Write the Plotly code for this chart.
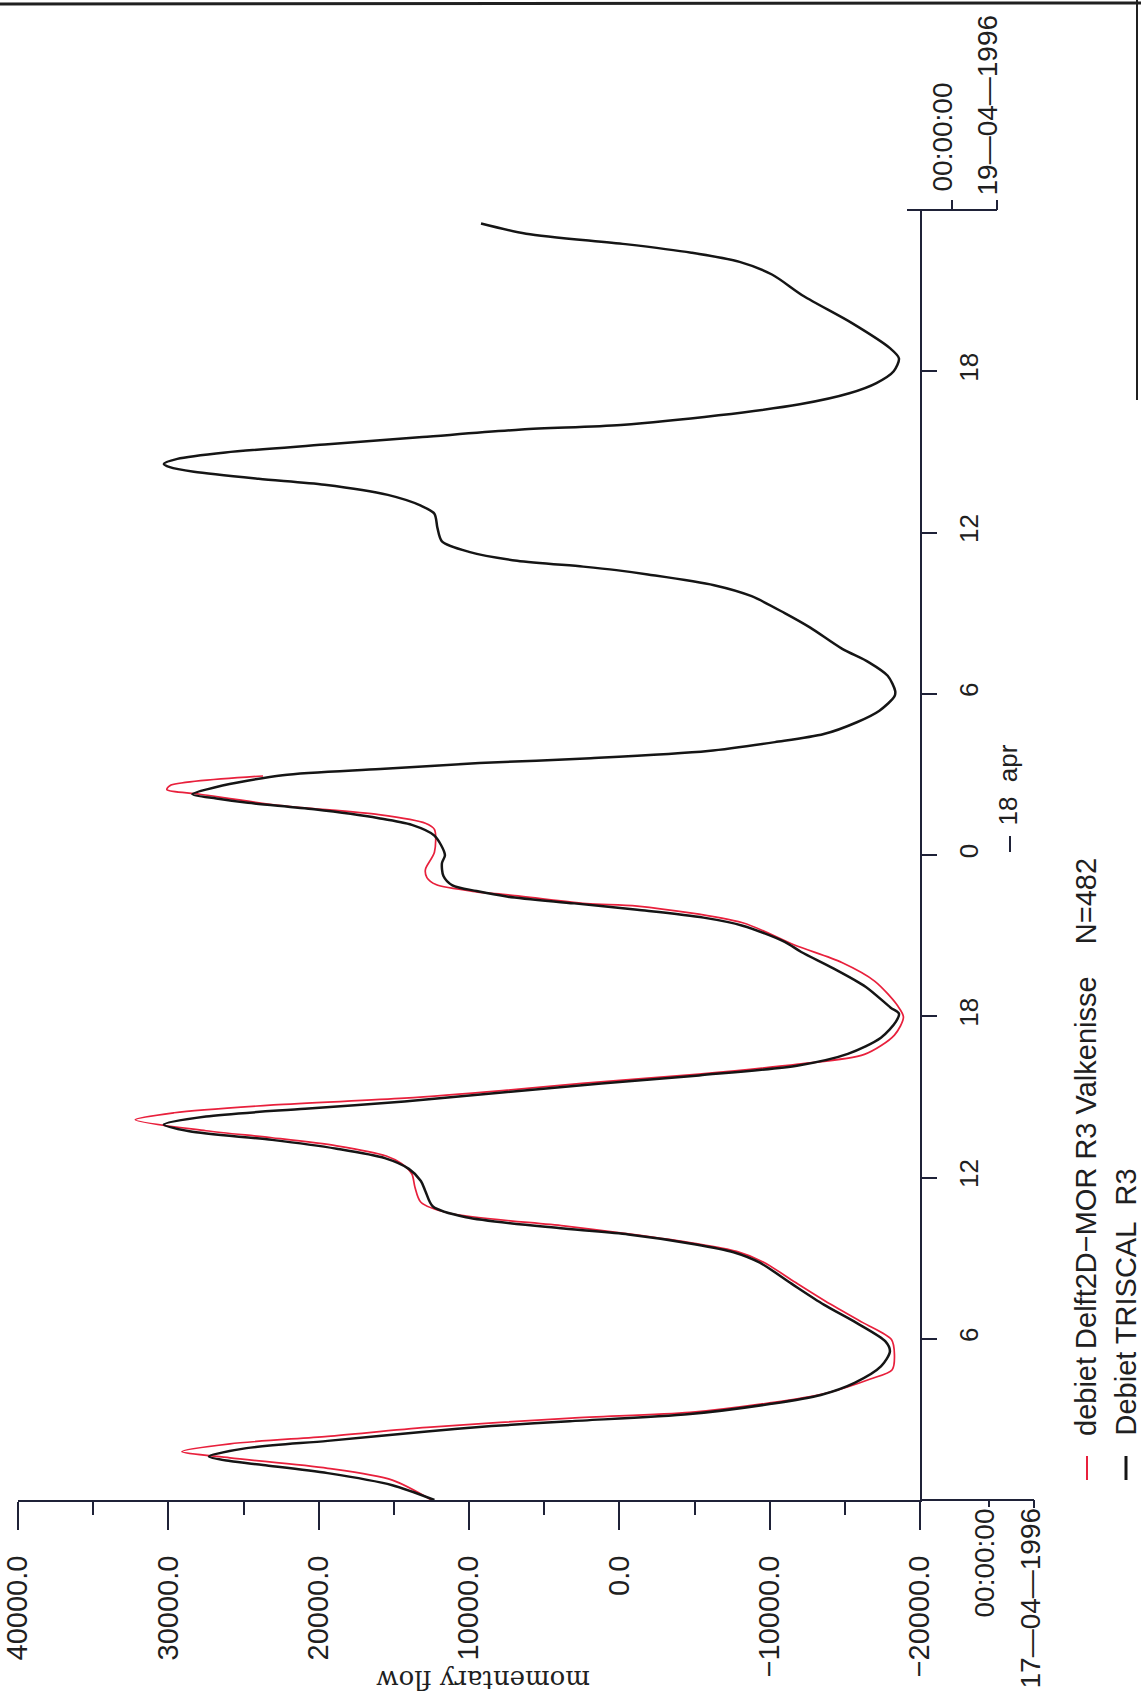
import plotly.graph_objects as go

# ---------------- data (hours since 17-04-1996 00:00, momentary flow) ----------------
time_triscal = [0.0, 0.55, 1.0, 1.3, 1.45, 1.62, 1.93, 2.2, 2.55, 2.75,
                2.93, 3.2, 3.58, 3.91, 4.36, 4.97, 5.53, 5.9, 6.6, 7.27,
                8.05, 8.83, 9.22, 9.52, 9.88, 10.1, 10.52, 10.92, 11.49, 11.87,
                12.32, 12.72, 13.07, 13.4, 13.72, 13.97, 14.27, 14.56, 14.83, 15.16,
                15.5, 15.8, 16.17, 16.6, 17.2, 17.8, 18.1, 18.32, 19.09, 19.79,
                20.39, 20.77, 21.37, 21.67, 21.96, 22.2, 22.45, 22.66, 22.87, 23.22,
                23.7, 24.0, 24.72, 25.12, 25.37, 25.7, 25.94, 26.1, 26.26, 26.53,
                26.97, 27.2, 27.42, 27.6, 27.87, 28.2, 28.5, 28.94, 29.37, 29.9,
                30.1, 30.67, 31.17, 31.68, 32.46, 33.0, 33.63, 34.04, 34.44, 34.6,
                34.73, 34.95, 35.28, 35.67, 36.17, 36.7, 37.0, 37.4, 37.78, 38.0,
                38.26, 38.43, 38.55, 38.74, 38.98, 39.27, 39.55, 39.83, 40.0, 40.36,
                40.77, 41.18, 41.56, 42.0, 42.48, 42.86, 43.8, 44.8, 45.6, 46.07,
                46.41, 46.73, 47.12, 47.5]
flow_triscal = [12300, 15100, 19400, 23700, 25900, 27300, 24800, 19400, 12800, 8500,
                3300, -4700, -10100, -13400, -15650, -17400, -18000, -17700, -15750, -13600,
                -11450, -9350, -7600, -5000, -600, 3700, 10200, 12400, 12900, 13200,
                14000, 15600, 18800, 23100, 28600, 30300, 27500, 20900, 14300, 7800,
                1200, -5300, -11900, -15200, -17400, -18400, -18600, -18050, -16400, -14200,
                -12100, -11000, -8200, -5600, -1200, 3000, 7400, 9500, 11100, 11700,
                11800, 11600, 12300, 13800, 16000, 20300, 24700, 26800, 28400, 26800,
                22400, 15900, 9300, 1900, -5900, -10350, -13600, -15800, -17300, -18300,
                -18350, -17850, -16600, -14800, -12700, -11000, -8800, -6300, -1900, 200,
                2400, 6800, 10000, 11800, 12100, 12300, 13200, 15400, 19600, 24000,
                28300, 29900, 30300, 29400, 26200, 19600, 13100, 6500, -100, -6600,
                -12000, -15300, -17100, -18250, -18600, -18000, -15450, -12250, -10150, -8000,
                -4800, -400, 6200, 9200]

time_delft = [0.0, 0.74, 1.18, 1.57, 1.8, 2.09, 2.37, 2.7, 3.05, 3.26,
              3.62, 3.95, 4.5, 4.85, 5.41, 5.97, 6.6, 7.3, 8.1, 8.85,
              9.25, 9.55, 9.9, 10.2, 10.67, 11.08, 11.65, 12.13, 12.52, 12.8,
              13.18, 13.48, 13.74, 14.15, 14.41, 14.7, 14.95, 15.23, 15.5, 15.85,
              16.22, 16.58, 17.3, 17.97, 18.4, 19.3, 20.0, 20.65, 21.48, 22.1,
              22.19, 22.52, 22.63, 22.9, 23.16, 23.46, 24.1, 24.95, 25.18, 25.5,
              25.84, 26.26, 26.43, 26.58, 26.94]
flow_delft = [12500, 15100, 19400, 25900, 29100, 25900, 19400, 12800, 3200, -4700,
              -10100, -13600, -16700, -18150, -18300, -18100, -16200, -14000, -11700, -9600,
              -7800, -5000, -600, 3700, 11300, 13200, 13600, 13800, 14500, 15500,
              18800, 23100, 27500, 32200, 29600, 23000, 14300, 7800, 2500, -5300,
              -11900, -16300, -18300, -18900, -18500, -17000, -14800, -11650, -8200, -1200,
              2200, 7400, 9500, 12200, 12800, 12900, 12300, 12300, 12900, 16000,
              22500, 27900, 30100, 29900, 23700]

flow_tick_values = [40000, 30000, 20000, 10000, 0, -10000, -20000]
flow_tick_labels = ["40000.0", "30000.0", "20000.0", "10000.0", "0.0", "\u221210000.0", "\u221220000.0"]
flow_minor_values = [35000, 25000, 15000, 5000, -5000, -15000]
time_tick_values = [6, 12, 18, 24, 30, 36, 42]
time_tick_labels = ["6", "12", "18", "0", "6", "12", "18"]
time_range = [0, 48]
flow_range = [40000, -20000]

name_delft = "debiet Delft2D\u2212MOR R3 Valkenisse\u00a0\u00a0\u00a0\u00a0N=482"
name_triscal = "Debiet TRISCAL\u00a0\u00a0R3"
axis_title = "momentary flow"
start_time, start_date = "00:00:00", "17\u201404\u20141996"
end_time, end_date = "00:00:00", "19\u201404\u20141996"
day_label = "18\u00a0\u00a0apr"

# ---------------- layout geometry ----------------
W, H = 1141, 1704
L, R, T, B = 18, 221, 210, 204
PW, PH = W - L - R, H - T - B


def px(x):
    return (x - L) / PW


def py(y):
    return (H - B - y) / PH


AX = "#1f2238"
RED = "#e8203c"
BLK = "#151515"
SANS = "Liberation Sans, Arial, sans-serif"

fig = go.Figure()
fig.add_trace(go.Scatter(x=flow_delft, y=time_delft, mode="lines", name=name_delft,
                         line=dict(color=RED, width=1.7, shape="spline", smoothing=0.8),
                         showlegend=False, hoverinfo="skip"))
fig.add_trace(go.Scatter(x=flow_triscal, y=time_triscal, mode="lines", name=name_triscal,
                         line=dict(color=BLK, width=2.5, shape="spline", smoothing=0.8),
                         showlegend=False, hoverinfo="skip"))

fig.update_layout(
    width=W, height=H,
    margin=dict(l=L, r=R, t=T, b=B, pad=0),
    paper_bgcolor="white", plot_bgcolor="white",
    showlegend=False,
    xaxis=dict(range=flow_range, tickmode="array", tickvals=flow_tick_values,
               ticktext=flow_tick_labels, tickangle=-90, ticks="outside", ticklen=28,
               tickwidth=2, tickcolor=AX, showline=True, linewidth=2, linecolor=AX,
               showgrid=False, zeroline=False, automargin=False,
               tickfont=dict(family=SANS, size=29, color="#202020"),
               ticklabelstandoff=14,
               minor=dict(tickmode="array", tickvals=flow_minor_values, ticks="outside",
                          ticklen=13, tickwidth=2, tickcolor=AX, showgrid=False)),
    yaxis=dict(range=time_range, side="right", tickmode="array", tickvals=time_tick_values,
               ticktext=time_tick_labels, tickangle=-90, ticks="outside", ticklen=15,
               tickwidth=2, tickcolor=AX, showline=True, linewidth=2, linecolor=AX,
               showgrid=False, zeroline=False, automargin=False,
               tickfont=dict(family=SANS, size=26, color="#202020"),
               ticklabelstandoff=10),
    yaxis2=dict(range=time_range, overlaying="y", side="right", anchor="x",
                tickmode="array", tickvals=time_tick_values, ticks="inside", ticklen=15,
                tickwidth=2, tickcolor=AX, showticklabels=False, showline=False,
                showgrid=False, zeroline=False, automargin=False),
)

line_style = dict(color=AX, width=2)
shapes = [
    # extension of flow axis with date markers (bottom right)
    dict(type="line", xref="paper", yref="paper", x0=1, x1=px(1034), y0=0, y1=0, line=line_style),
    dict(type="line", xref="paper", yref="paper", x0=px(989), x1=px(989), y0=0, y1=py(1507), line=line_style),
    dict(type="line", xref="paper", yref="paper", x0=px(1034), x1=px(1034), y0=0, y1=py(1508), line=line_style),
    # top end of time axis with date markers
    dict(type="line", xref="paper", yref="paper", x0=px(907), x1=px(997), y0=1, y1=1, line=line_style),
    dict(type="line", xref="paper", yref="paper", x0=px(952), x1=px(952), y0=1, y1=py(200), line=line_style),
    dict(type="line", xref="paper", yref="paper", x0=px(997), x1=px(997), y0=1, y1=py(200), line=line_style),
    # day marker
    dict(type="line", xref="paper", yref="paper", x0=px(1010), x1=px(1010), y0=py(852), y1=py(836), line=line_style),
    # legend keys
    dict(type="line", xref="paper", yref="paper", x0=px(1087), x1=px(1087), y0=py(1480), y1=py(1456),
         line=dict(color=RED, width=2)),
    dict(type="line", xref="paper", yref="paper", x0=px(1126), x1=px(1126), y0=py(1480), y1=py(1456),
         line=dict(color=BLK, width=3)),
    # scan frame
    dict(type="line", xref="paper", yref="paper", x0=px(0), x1=px(1141), y0=py(4), y1=py(3),
         line=dict(color="#202020", width=3)),
    dict(type="line", xref="paper", yref="paper", x0=px(1137), x1=px(1137), y0=py(0), y1=py(400),
         line=dict(color="#202020", width=2)),
]
fig.update_layout(shapes=shapes)

font28 = dict(family=SANS, size=28, color="#202020")
font29 = dict(family=SANS, size=29, color="#202020")
ann = [
    dict(text=start_time, x=px(984), y=py(1508), xanchor="center", yanchor="top", textangle=-90, font=font28),
    dict(text=start_date, x=px(1030), y=py(1507), xanchor="center", yanchor="top", textangle=-90, font=font28),
    dict(text=end_time, x=px(942), y=py(193), xanchor="center", yanchor="bottom", textangle=-90, font=font28),
    dict(text=end_date, x=px(987), y=py(197), xanchor="center", yanchor="bottom", textangle=-90, font=font28),
    dict(text=day_label, x=px(1007), y=py(827), xanchor="center", yanchor="bottom", textangle=-90,
         font=dict(family=SANS, size=26, color="#202020")),
    dict(text=name_delft, x=px(1086), y=py(1437), xanchor="center", yanchor="bottom", textangle=-90, font=font29),
    dict(text=name_triscal, x=px(1125), y=py(1437), xanchor="center", yanchor="bottom", textangle=-90, font=font29),
    dict(text=axis_title, x=px(483), y=py(1680), xanchor="center", yanchor="middle", textangle=180,
         font=dict(family="DejaVu Serif, Liberation Serif, serif", size=26, color="#202020")),
]
for a in ann:
    a.update(xref="paper", yref="paper", showarrow=False, borderpad=0)
fig.update_layout(annotations=ann)

fig.write_html("out.html")
